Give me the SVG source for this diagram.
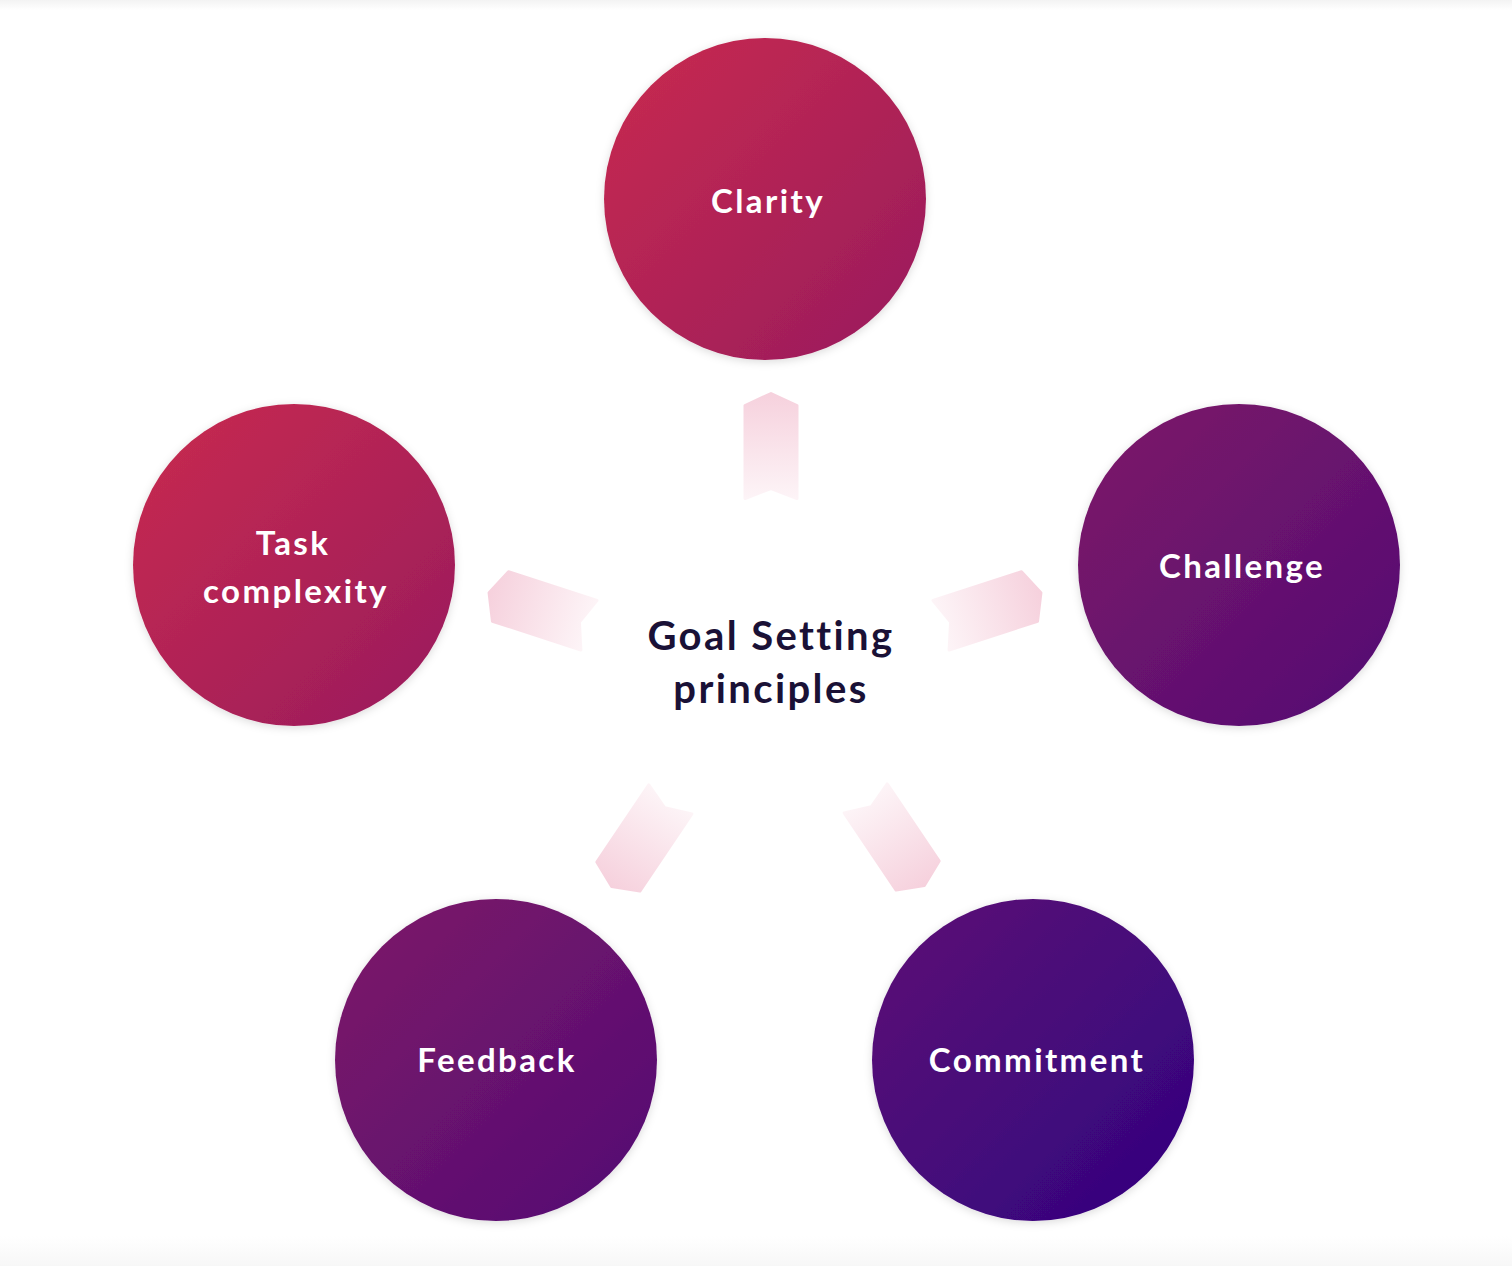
<svg xmlns="http://www.w3.org/2000/svg" width="1512" height="1266" viewBox="0 0 1512 1266">
  <defs>
    <linearGradient id="gRed" x1="0" y1="0" x2="1" y2="1">
      <stop offset="0" stop-color="#c92b4e"/>
      <stop offset="1" stop-color="#981b5e"/>
    </linearGradient>
    <linearGradient id="gPurple" x1="0" y1="0" x2="1" y2="1">
      <stop offset="0" stop-color="#7e1868"/>
      <stop offset="1" stop-color="#520c74"/>
    </linearGradient>
    <linearGradient id="gIndigo" x1="0" y1="0" x2="1" y2="1">
      <stop offset="0" stop-color="#5d1075"/>
      <stop offset="1" stop-color="#30037f"/>
    </linearGradient>
    <linearGradient id="gArrow" x1="0" y1="0" x2="0" y2="1">
      <stop offset="0" stop-color="#f6d1dd"/>
      <stop offset="1" stop-color="#fdf4f7"/>
    </linearGradient>
    <linearGradient id="gTop" x1="0" y1="0" x2="0" y2="1">
      <stop offset="0" stop-color="#f3f3f3"/>
      <stop offset="1" stop-color="#ffffff"/>
    </linearGradient>
    <linearGradient id="gBottom" x1="0" y1="0" x2="0" y2="1">
      <stop offset="0" stop-color="#ffffff"/>
      <stop offset="1" stop-color="#f7f7f7"/>
    </linearGradient>
    <filter id="shadow" x="-20%" y="-20%" width="140%" height="140%">
      <feDropShadow dx="0" dy="2" stdDeviation="4" flood-color="#000000" flood-opacity="0.14"/>
    </filter>
    <path id="arrow" d="M0,-52.5 L26,-40.5 L26,52.5 L0,42.5 L-26,52.5 L-26,-40.5 Z"/>
  </defs>
  <style>
    .node-label { font-family: "Lato", "Liberation Sans", sans-serif; font-weight: 700; font-size: 33px; fill: #ffffff; text-anchor: middle; letter-spacing: 2.4px; }
    .title { font-family: "Lato", "Liberation Sans", sans-serif; font-weight: 700; font-size: 40px; fill: #1a1136; text-anchor: middle; letter-spacing: 2.4px; }
    .conn { fill: url(#gArrow); stroke: url(#gArrow); stroke-width: 3; stroke-linejoin: round; }
  </style>

  <rect x="0" y="0" width="1512" height="1266" fill="#ffffff"/>
  <rect x="0" y="0" width="1512" height="10" fill="url(#gTop)"/>
  <rect x="0" y="1236" width="1512" height="30" fill="url(#gBottom)"/>

  <g id="connectors">
    <use href="#arrow" class="conn" transform="translate(771,446)"/>
    <use href="#arrow" class="conn" transform="translate(991,609) rotate(72)"/>
    <use href="#arrow" class="conn" transform="translate(895,842) rotate(146)"/>
    <use href="#arrow" class="conn" transform="translate(641,843) rotate(214)"/>
    <use href="#arrow" class="conn" transform="translate(539,609) rotate(288)"/>
  </g>

  <g id="center">
    <text class="title" x="771" y="650">Goal Setting</text>
    <text class="title" x="771" y="703">principles</text>
  </g>

  <g id="clarity">
    <circle cx="765" cy="199" r="161" fill="url(#gRed)" filter="url(#shadow)"/>
    <text class="node-label" x="768" y="213">Clarity</text>
  </g>

  <g id="task-complexity">
    <circle cx="294" cy="565" r="161" fill="url(#gRed)" filter="url(#shadow)"/>
    <text class="node-label" x="293" y="555">Task</text>
    <text class="node-label" x="296" y="603">complexity</text>
  </g>

  <g id="challenge">
    <circle cx="1239" cy="565" r="161" fill="url(#gPurple)" filter="url(#shadow)"/>
    <text class="node-label" x="1242" y="578">Challenge</text>
  </g>

  <g id="feedback">
    <circle cx="496" cy="1060" r="161" fill="url(#gPurple)" filter="url(#shadow)"/>
    <text class="node-label" x="497" y="1072">Feedback</text>
  </g>

  <g id="commitment">
    <circle cx="1033" cy="1060" r="161" fill="url(#gIndigo)" filter="url(#shadow)"/>
    <text class="node-label" x="1037" y="1072">Commitment</text>
  </g>
</svg>
